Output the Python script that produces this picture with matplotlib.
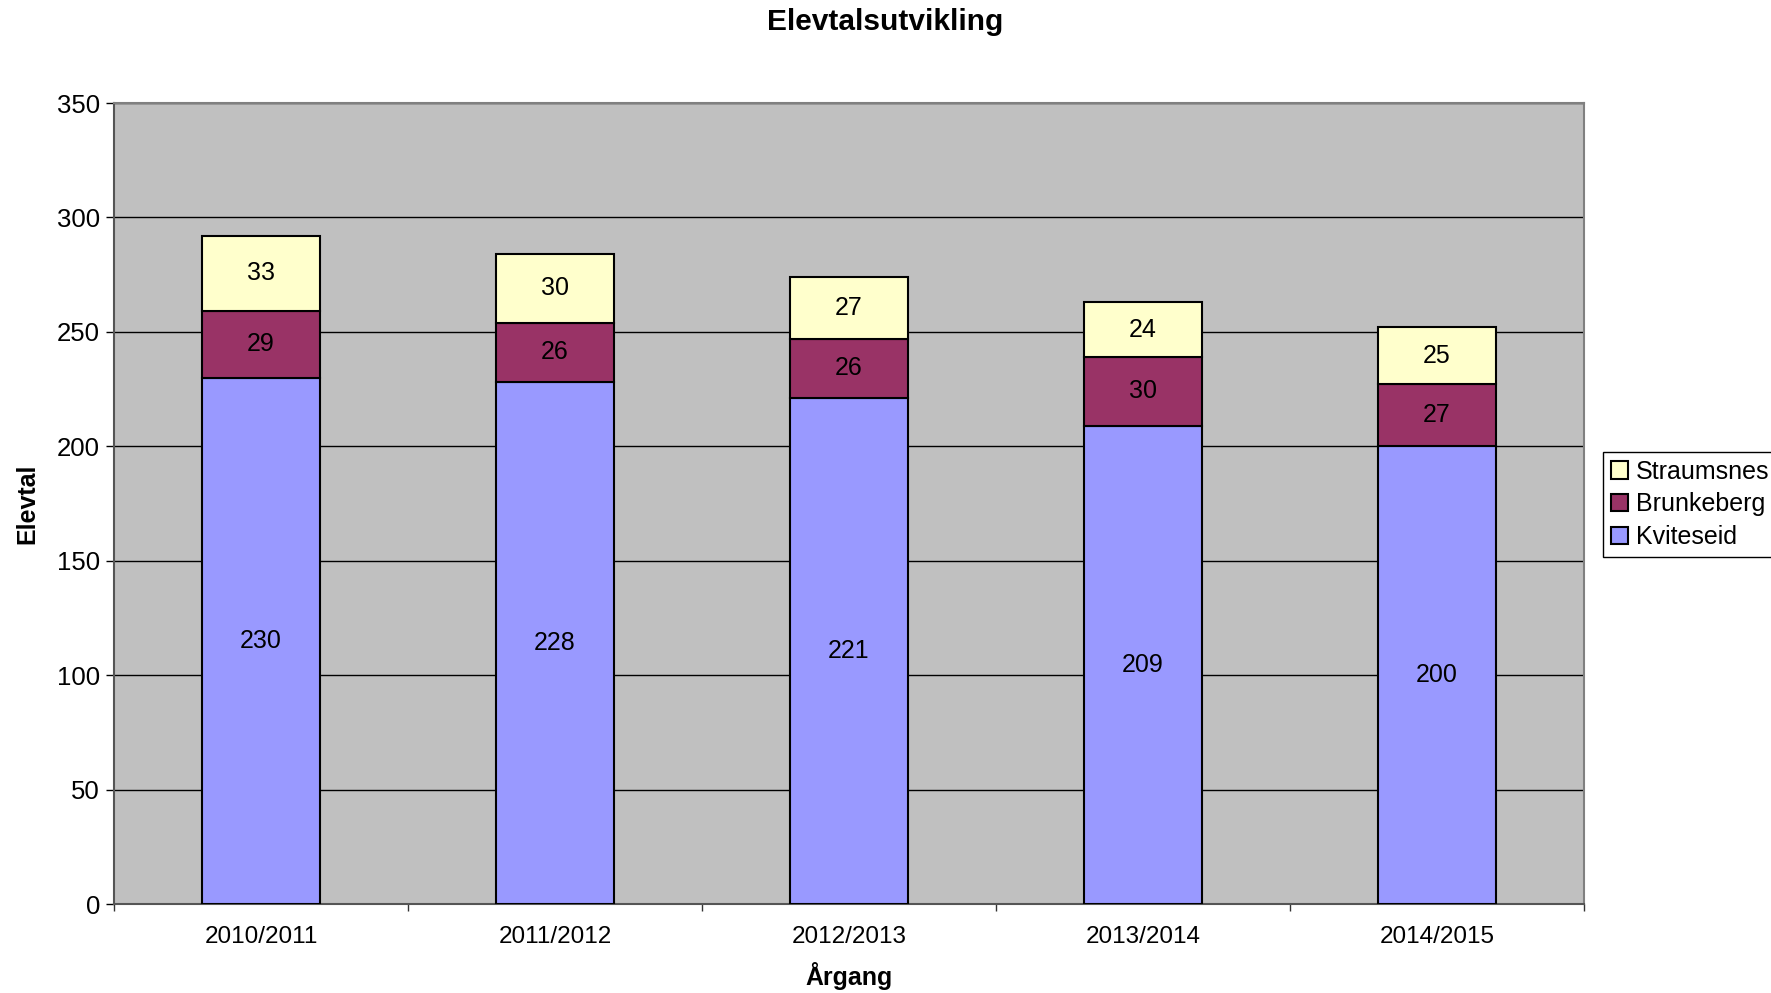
import matplotlib
matplotlib.use("Agg")
import matplotlib.pyplot as plt
import numpy as np

plt.rcParams['font.family'] = ['Liberation Sans', 'DejaVu Sans']

years = ["2010/2011", "2011/2012", "2012/2013", "2013/2014", "2014/2015"]
kviteseid = [230, 228, 221, 209, 200]
brunkeberg = [29, 26, 26, 30, 27]
straumsnes = [33, 30, 27, 24, 25]

series = [("Kviteseid", kviteseid, "#9999FF"),
          ("Brunkeberg", brunkeberg, "#993366"),
          ("Straumsnes", straumsnes, "#FFFFCC")]

fig = plt.figure(figsize=(17.71, 9.93), dpi=100)
ax = fig.add_axes([114/1771, 1-904/993, (1584-114)/1771, (904-103)/993])
ax.set_facecolor("#C0C0C0")

x = np.arange(len(years))
bottom = np.zeros(len(years))
handles = []
for name, vals, col in series:
    vals = np.array(vals)
    b = ax.bar(x, vals, 0.4, bottom=bottom, color=col, edgecolor="black",
               linewidth=1.5, label=name, zorder=3)
    handles.append(b)
    for xi, bi, vi in zip(x, bottom, vals):
        ax.text(xi, bi + vi/2, str(vi), ha="center", va="center", fontsize=18, zorder=4)
    bottom = bottom + vals

ax.set_xlim(-0.5, len(years)-0.5)
ax.set_ylim(0, 350)
ax.set_yticks(np.arange(0, 351, 50))
ax.yaxis.grid(True, color="black", linewidth=1.0, zorder=1)
ax.set_axisbelow(True)
ax.set_xticks(x)
ax.set_xticklabels(years, fontsize=17.5)
ax.set_xticks(np.arange(-0.5, len(years)), minor=True)
ax.tick_params(axis="x", which="major", length=0, pad=16)
ax.tick_params(axis="x", which="minor", length=5, width=1, color="#333333", direction="out")
ax.tick_params(axis="y", length=6, width=1, direction="out", labelsize=18.5, pad=4)

for s in ["top", "right"]:
    ax.spines[s].set_color("#808080")
    ax.spines[s].set_linewidth(1.5)
for s in ["left", "bottom"]:
    ax.spines[s].set_color("#555555")
    ax.spines[s].set_linewidth(1.5)

fig.text(0.5, 1-22/993, "Elevtalsutvikling", ha="center", va="center",
         fontsize=21.5, fontweight="bold")
fig.text(849/1771, 1-976/993, "Årgang", ha="center", va="center",
         fontsize=18, fontweight="bold")
fig.text(27/1771, 1-(103+904)/2/993, "Elevtal", ha="center", va="center",
         rotation=90, fontsize=18, fontweight="bold")

leg = ax.legend(handles[::-1], [s[0] for s in series][::-1],
                loc="upper left", bbox_to_anchor=(1603/1771, 1-452/993),
                bbox_transform=fig.transFigure, borderaxespad=0,
                fontsize=18, handlelength=0.7, handleheight=0.7,
                handletextpad=0.3, borderpad=0.3, labelspacing=0.35,
                fancybox=False, framealpha=1, edgecolor="black")
leg.get_frame().set_linewidth(1.0)

fig.savefig("out.png", dpi=100)
